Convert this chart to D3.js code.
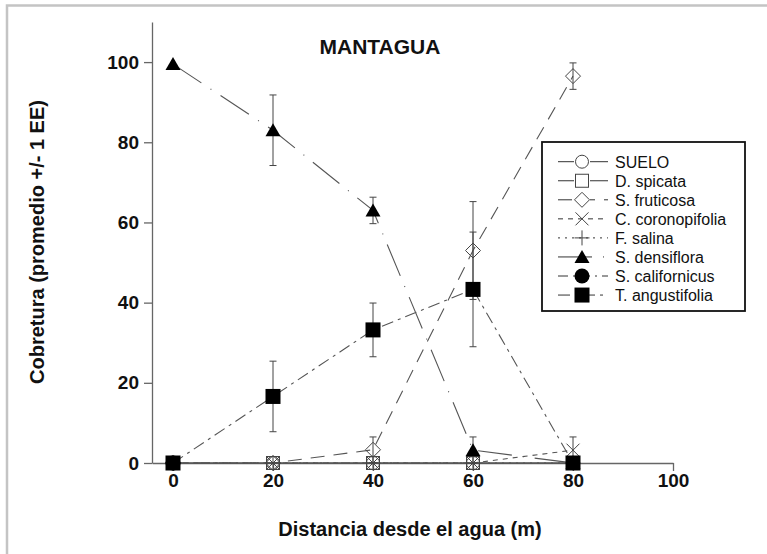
<!DOCTYPE html>
<html><head><meta charset="utf-8">
<script src="https://cdn.jsdelivr.net/npm/d3@7"></script>
<style>
html,body{margin:0;padding:0;background:#fff;}
svg{display:block;font-family:"Liberation Sans",Arial,sans-serif;}
</style></head>
<body>
<script>
// ---- data ----
const distances = [0, 20, 40, 60, 80];
const xTicks = [0, 20, 40, 60, 80, 100];
const yTicks = [0, 20, 40, 60, 80, 100];
const seriesNames = ["SUELO","D. spicata","S. fruticosa","C. coronopifolia","F. salina","S. densiflora","S. californicus","T. angustifolia"];
const suelo          = [0, 0, 0, 0, 0];
const dSpicata       = [0, 0, 0, 0, 0];
const sFruticosa     = [0, 0, 3.3, 53, 96.5];
const sFruticosaErr  = [0, 0, 3.2, 12.2, 3.3];
const cCoronopifolia = [0, 0, 0, 0, 3.2];
const cCoronopifoliaErr = [0, 0, 0, 0, 3.3];
const fSalina        = [0, 0, 0, 0, 0];
const sDensiflora    = [99.5, 83, 63, 3.2, 0];
const sDensifloraErr = [0, 8.8, 3.3, 3.3, 0];
const sCalifornicus  = [0, null, null, null, null];
const tAngustifolia  = [0, 16.6, 33.2, 43.3, 0];
const tAngustifoliaErr = [0, 8.8, 6.7, 14.3, 0];

const W = 767, H = 554;
const svg = d3.select("body").append("svg").attr("width", W).attr("height", H);

// outer frame
svg.append("path").attr("d", "M7,554 V5.5 H767").attr("fill","none").attr("stroke","#c4c4c4").attr("stroke-width",2.5);

const x = d3.scaleLinear().domain([-4.2, 100]).range([152, 673]);
const y = d3.scaleLinear().domain([0, 110]).range([463, 22]);
const axisColor = "#666";

// axes
const gx = svg.append("g").attr("transform","translate(0,463)")
  .call(d3.axisBottom(x).tickValues(xTicks).tickSize(8).tickSizeOuter(0).tickPadding(3));
const gy = svg.append("g").attr("transform","translate(152,0)")
  .call(d3.axisLeft(y).tickValues(yTicks).tickSize(8).tickSizeOuter(0).tickPadding(5));
[gx, gy].forEach(g => {
  g.select(".domain").attr("stroke", axisColor).attr("stroke-width", 1.3);
  g.selectAll(".tick line").attr("stroke", axisColor).attr("stroke-width", 1.3);
  g.selectAll(".tick text").attr("fill","#111").style("font-size","19px").style("font-weight","bold")
   .style("font-family","'Liberation Sans',Arial,sans-serif");
});

// titles
svg.append("text").attr("x",380).attr("y",54).attr("text-anchor","middle")
  .style("font-size","21px").style("font-weight","bold").attr("fill","#111").text("MANTAGUA");
svg.append("text").attr("x",410).attr("y",536).attr("text-anchor","middle")
  .style("font-size","20px").style("font-weight","bold").attr("fill","#111").text("Distancia desde el agua (m)");
svg.append("text").attr("transform","translate(44,242) rotate(-90)").attr("text-anchor","middle")
  .style("font-size","20px").style("font-weight","bold").attr("fill","#111").text("Cobretura (promedio +/- 1 EE)");

// marker drawers
const stroke = "#444";
function marker(g, type, cx, cy) {
  switch(type) {
    case "circle": g.append("circle").attr("cx",cx).attr("cy",cy).attr("r",6.5).attr("fill","none").attr("stroke",stroke).attr("stroke-width",1); break;
    case "square": g.append("rect").attr("x",cx-6.5).attr("y",cy-6.5).attr("width",13).attr("height",13).attr("fill","none").attr("stroke",stroke).attr("stroke-width",1); break;
    case "diamond": g.append("path").attr("d",`M${cx},${cy-7.5}L${cx+7.5},${cy}L${cx},${cy+7.5}L${cx-7.5},${cy}Z`).attr("fill","none").attr("stroke",stroke).attr("stroke-width",1); break;
    case "x": g.append("path").attr("d",`M${cx-6.5},${cy-6.5}L${cx+6.5},${cy+6.5}M${cx-6.5},${cy+6.5}L${cx+6.5},${cy-6.5}`).attr("stroke",stroke).attr("stroke-width",1); break;
    case "plus": g.append("path").attr("d",`M${cx-7.5},${cy}L${cx+7.5},${cy}M${cx},${cy-7.5}L${cx},${cy+7.5}`).attr("stroke",stroke).attr("stroke-width",1); break;
    case "triangle": g.append("path").attr("d",`M${cx},${cy-7}L${cx+7.5},${cy+6}L${cx-7.5},${cy+6}Z`).attr("fill","#000"); break;
    case "fcircle": g.append("circle").attr("cx",cx).attr("cy",cy).attr("r",7.5).attr("fill","#000"); break;
    case "fsquare": g.append("rect").attr("x",cx-7.5).attr("y",cy-7.5).attr("width",15).attr("height",15).attr("fill","#000"); break;
  }
}

const series = [
  {name: seriesNames[0], vals: suelo, err: null, m: "circle", dash: null},
  {name: seriesNames[1], vals: dSpicata, err: null, m: "square", dash: null},
  {name: seriesNames[2], vals: sFruticosa, err: sFruticosaErr, m: "diamond", dash: "14,9"},
  {name: seriesNames[3], vals: cCoronopifolia, err: cCoronopifoliaErr, m: "x", dash: "5,5"},
  {name: seriesNames[4], vals: fSalina, err: null, m: "plus", dash: "2,5"},
  {name: seriesNames[5], vals: sDensiflora, err: sDensifloraErr, m: "triangle", dash: "34,11,1,11"},
  {name: seriesNames[6], vals: sCalifornicus, err: null, m: "fcircle", dash: "10,5,2,5"},
  {name: seriesNames[7], vals: tAngustifolia, err: tAngustifoliaErr, m: "fsquare", dash: "12,5,3,5"}
];

const line = d3.line().defined(d => d[1] != null).x(d => x(d[0])).y(d => y(d[1]));
const plot = svg.append("g");
series.forEach(s => {
  const pts = distances.map((d,i) => [d, s.vals[i]]);
  plot.append("path").attr("d", line(pts)).attr("fill","none").attr("stroke","#555").attr("stroke-width",1.1)
    .attr("stroke-dasharray", s.dash);
});
series.forEach(s => {
  if (!s.err) return;
  distances.forEach((d,i) => {
    const e = s.err[i]; const v = s.vals[i];
    if (v == null || !e) return;
    const cx = x(d), y1 = y(v+e), y0 = y(v-e);
    plot.append("path").attr("d",`M${cx},${y1}V${y0}M${cx-3.5},${y1}H${cx+3.5}M${cx-3.5},${y0}H${cx+3.5}`)
      .attr("stroke","#444").attr("stroke-width",1).attr("fill","none");
  });
});
series.forEach(s => {
  const g = plot.append("g");
  distances.forEach((d,i) => { if (s.vals[i] != null) marker(g, s.m, x(d), y(s.vals[i])); });
});

// legend
const lg = svg.append("g");
lg.append("rect").attr("x",542).attr("y",142).attr("width",203).attr("height",169)
  .attr("fill","#fff").attr("stroke","#111").attr("stroke-width",1.8);
series.forEach((s,i) => {
  const cy = 161.7 + i*19.05;
  lg.append("line").attr("x1",558).attr("x2",608).attr("y1",cy).attr("y2",cy)
    .attr("stroke","#333").attr("stroke-width",1).attr("stroke-dasharray", s.dash);
  if (["circle","square","diamond"].includes(s.m)) {
    lg.append("rect").attr("x",574).attr("y",cy-7).attr("width",16).attr("height",14).attr("fill","#fff");
  }
  marker(lg, s.m, 582, cy);
  lg.append("text").attr("x",615).attr("y",cy+5.8).style("font-size","16px").attr("fill","#111").text(s.name);
});
</script>
</body></html>
